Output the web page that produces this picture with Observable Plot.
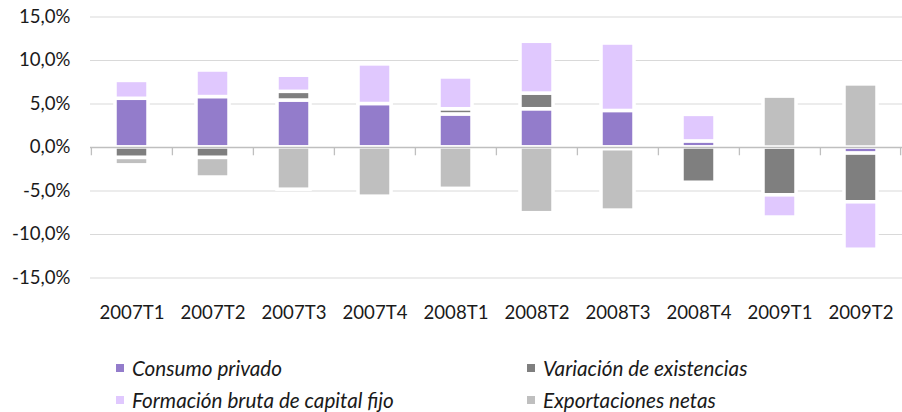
<!DOCTYPE html>
<html>
<head>
<meta charset="utf-8">
<script src="https://cdn.jsdelivr.net/npm/d3@7"></script>
<script src="https://cdn.jsdelivr.net/npm/@observablehq/plot@0.6"></script>
<style>
  html, body { margin: 0; padding: 0; background: #fff; }
  #wrap { width: 902px; position: relative; font-family: Lato, "Open Sans", sans-serif; }
  #legend { position: relative; width: 902px; height: 80px; }
  .item { position: absolute; display: flex; align-items: center; height: 22px; font-style: italic; font-size: 20.7px; color: #1a1a1a; white-space: nowrap; }
  .sw { width: 8px; height: 8px; margin-right: 8px; }
</style>
</head>
<body>
<div id="wrap">
  <div id="chart"></div>
  <div id="legend"></div>
</div>
<script>
const categories = ["2007T1","2007T2","2007T3","2007T4","2008T1","2008T2","2008T3","2008T4","2009T1","2009T2"];
const seriesNames = ["Consumo privado","Variación de existencias","Formación bruta de capital fijo","Exportaciones netas"];
const seriesColors = ["#937ccb","#7f7f7f","#e0c8fe","#bfbfbf"];
const consumo       = [5.6, 5.8, 5.4, 5.0, 3.8, 4.4, 4.2, 0.7, 0.0, -0.7];
const variacion     = [-1.2, -1.2, 1.0, 0.0, 0.6, 1.8, -0.2, -4.05, -5.5, -5.6];
const formacion     = [2.05, 3.05, 1.85, 4.55, 3.65, 5.95, 7.75, 3.05, -2.55, -5.45];
const exportaciones = [-0.85, -2.25, -4.85, -5.65, -4.75, -7.55, -7.05, 0.0, 5.85, 7.25];
const yTicks = [-15, -10, -5, 0, 5, 10, 15];

const seriesValues = [consumo, variacion, formacion, exportaciones];
const data = [];
seriesNames.forEach((s, si) => {
  categories.forEach((c, ci) => data.push({cat: c, series: s, value: seriesValues[si][ci]}));
});

const W = 902, ML = 90, MR = 0;
const step = (W - ML - MR) / categories.length;
const fmt = d => d.toFixed(1).replace(".", ",") + "%";

const chart = Plot.plot({
  width: W,
  height: 332,
  marginLeft: ML,
  marginRight: MR,
  marginTop: 16.5,
  marginBottom: 54.5,
  style: {fontFamily: "Lato, 'Open Sans', sans-serif", fontSize: "18.6px", color: "#1a1a1a", background: "#fff"},
  x: {type: "band", domain: categories, paddingInner: 0.587, paddingOuter: 0.2935, label: null},
  y: {domain: [-15, 15], label: null},
  color: {domain: seriesNames, range: seriesColors},
  marks: [
    Plot.ruleY(yTicks.filter(d => d !== 0), {y: d => d, stroke: "#d9d9d9", strokeWidth: 1}),
    Plot.barY(data, Plot.stackY({x: "cat", y: "value", fill: "series", stroke: "#fff", strokeWidth: 3.5, order: null})),
    Plot.ruleY([0], {stroke: "#bfbfbf", strokeWidth: 1.3}),
    Plot.ruleX(categories, {x: d => d, y1: 0, y2: -0.95, dx: -step / 2, stroke: "#bfbfbf", strokeWidth: 1.3}),
    Plot.ruleX(categories.slice(-1), {x: d => d, y1: 0, y2: -0.95, dx: step / 2 - 1, stroke: "#bfbfbf", strokeWidth: 1.3}),
    Plot.axisY({ticks: yTicks, tickFormat: fmt, tickSize: 0, tickPadding: 20, anchor: "left", label: null, fill: "#1a1a1a"}),
    Plot.axisX({tickSize: 0, tickPadding: 28, anchor: "bottom", label: null, fill: "#1a1a1a"})
  ]
});
document.getElementById("chart").appendChild(chart);

// legend (row-wise, 2 columns)
const legend = document.getElementById("legend");
const pos = [
  {left: 116, top: 25}, {left: 527, top: 25},
  {left: 116, top: 57}, {left: 527, top: 57}
];
seriesNames.forEach((s, i) => {
  const it = document.createElement("div");
  it.className = "item";
  it.style.left = pos[i].left + "px";
  it.style.top = pos[i].top + "px";
  const sw = document.createElement("span");
  sw.className = "sw";
  sw.style.background = seriesColors[i];
  const tx = document.createElement("span");
  tx.textContent = s;
  it.appendChild(sw); it.appendChild(tx);
  legend.appendChild(it);
});
</script>
</body>
</html>
